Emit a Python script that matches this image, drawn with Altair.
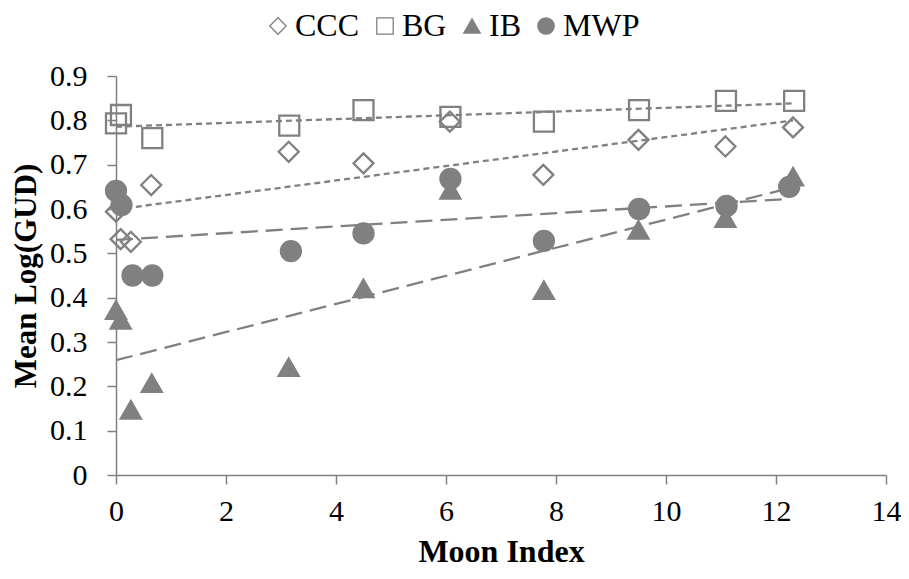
import altair as alt
import pandas as pd

series_order = ["CCC", "BG", "IB", "MWP"]

ccc_x = [0.0, 0.085, 0.27, 0.64, 3.14, 4.5, 6.07, 7.77, 9.5, 11.08, 12.31]
ccc_y = [0.594, 0.532, 0.526, 0.654, 0.729, 0.703, 0.797, 0.677, 0.756, 0.741, 0.784]

bg_x = [0.0, 0.09, 0.66, 3.15, 4.5, 6.08, 7.78, 9.51, 11.09, 12.33]
bg_y = [0.793, 0.812, 0.76, 0.788, 0.823, 0.808, 0.797, 0.823, 0.844, 0.844]

ib_x = [0.0, 0.085, 0.27, 0.65, 3.14, 4.5, 6.08, 7.78, 9.5, 11.08, 12.31]
ib_y = [0.372, 0.35, 0.147, 0.207, 0.243, 0.421, 0.643, 0.417, 0.553, 0.579, 0.673]

mwp_x = [0.0, 0.1, 0.3, 0.66, 3.18, 4.5, 6.08, 7.78, 9.51, 11.1, 12.24]
mwp_y = [0.641, 0.609, 0.45, 0.45, 0.505, 0.545, 0.668, 0.528, 0.6, 0.607, 0.65]

rows = []
for name, xs, ys in [("CCC", ccc_x, ccc_y), ("BG", bg_x, bg_y),
                     ("IB", ib_x, ib_y), ("MWP", mwp_x, mwp_y)]:
    for xv, yv in zip(xs, ys):
        rows.append({"series": name, "x": xv, "y": yv})
df = pd.DataFrame(rows)

GRAY = "#808080"
FONT = "Liberation Serif"

xenc = alt.X("x:Q", scale=alt.Scale(domain=[0, 14], nice=False),
             axis=alt.Axis(values=list(range(0, 15, 2)), format="d", title="Moon Index",
                           labelFont=FONT, titleFont=FONT))
yenc = alt.Y("y:Q", scale=alt.Scale(domain=[0, 0.9], nice=False),
             axis=alt.Axis(values=[i / 10 for i in range(10)], format=".1~f",
                           title="Mean Log(GUD)", labelFont=FONT, titleFont=FONT,
                           titleFontSize=31))


def leg():
    return alt.Legend(title=None, orient="none", direction="horizontal",
                      legendX=146, legendY=-66, padding=0, labelFont=FONT)


points = alt.Chart(df).mark_point(strokeWidth=2.3, size=400, opacity=1).encode(
    x=xenc,
    y=yenc,
    shape=alt.Shape("series:N",
                    scale=alt.Scale(domain=series_order,
                                    range=["diamond", "square", "triangle-up", "circle"]),
                    legend=leg()),
    fill=alt.Fill("series:N",
                  scale=alt.Scale(domain=series_order,
                                  range=["transparent", "transparent", GRAY, GRAY]),
                  legend=leg()),
    stroke=alt.Stroke("series:N",
                      scale=alt.Scale(domain=series_order,
                                      range=[GRAY, GRAY, GRAY, GRAY]),
                      legend=leg()),
)

short_dash = alt.Chart(df).transform_filter(
    alt.FieldOneOfPredicate(field="series", oneOf=["CCC", "BG"])
).transform_regression(
    "x", "y", groupby=["series"]
).mark_line(stroke=GRAY, strokeWidth=2.3, strokeDash=[6, 4]).encode(
    x="x:Q", y="y:Q", detail="series:N",
)

long_dash = alt.Chart(df).transform_filter(
    alt.FieldOneOfPredicate(field="series", oneOf=["IB", "MWP"])
).transform_regression(
    "x", "y", groupby=["series"]
).mark_line(stroke=GRAY, strokeWidth=2.3, strokeDash=[17, 8]).encode(
    x="x:Q", y="y:Q", detail="series:N",
)

chart = alt.layer(points, short_dash, long_dash).properties(
    width=770, height=399,
    autosize=alt.AutoSizeParams(type="none"),
    padding={"left": 108, "top": 68, "right": 15, "bottom": 96},
).configure_view(stroke=None).configure_axis(
    labelFont=FONT, labelFontSize=30, labelColor="black",
    titleFont=FONT, titleFontSize=32, titleFontWeight="bold", titleColor="black",
    domainColor=GRAY, domainWidth=1.5, tickColor=GRAY, tickWidth=1.5, tickSize=9,
    grid=False,
).configure_axisX(labelPadding=12, titlePadding=10, labelFlush=False
).configure_axisY(labelPadding=20, titlePadding=7
).configure_legend(
    labelFont=FONT, labelFontSize=32, labelColor="black",
    symbolSize=270, symbolStrokeWidth=1.3,
    columnPadding=9, labelOffset=1,
)

chart.save("out.html", embed_options={"renderer": "svg", "actions": False})
